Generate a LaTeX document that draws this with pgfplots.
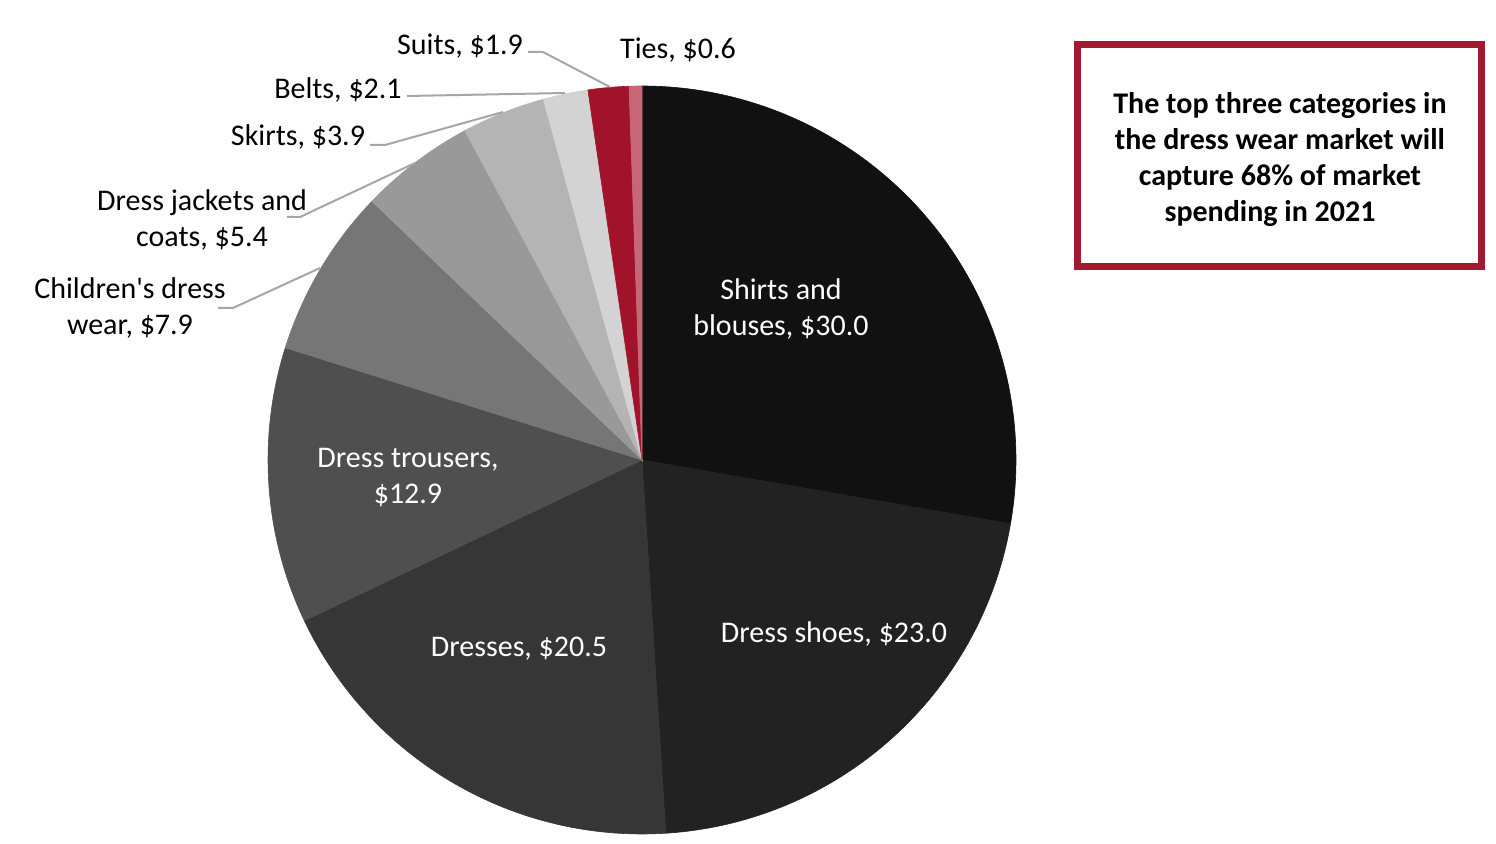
\documentclass[border=0pt]{standalone}
\usepackage{fontspec}
\setmainfont{Carlito}
\usepackage{pgfplots}
\usepackage{pgfplotstable}
\pgfplotsset{compat=1.18}

\definecolor{c0}{HTML}{111111}
\definecolor{c1}{HTML}{222222}
\definecolor{c2}{HTML}{363636}
\definecolor{c3}{HTML}{4F4F4F}
\definecolor{c4}{HTML}{767676}
\definecolor{c5}{HTML}{999999}
\definecolor{c6}{HTML}{B4B4B4}
\definecolor{c7}{HTML}{D3D3D3}
\definecolor{c8}{HTML}{A0132A}
\definecolor{c9}{HTML}{C66677}
\definecolor{leader}{HTML}{A6A6A6}
\definecolor{boxred}{HTML}{A31A30}

% spending by category, US$ bn
\pgfplotstableread[col sep=comma]{
label,value
Shirts and blouses,30.0
Dress shoes,23.0
Dresses,20.5
Dress trousers,12.9
Children's dress wear,7.9
Dress jackets and coats,5.4
Skirts,3.9
Belts,2.1
Suits,1.9
Ties,0.6
}\piedata

\begin{document}
\begin{tikzpicture}[lbl/.style={font=\fontsize{15}{18}\selectfont, align=center, inner sep=0pt}]
\begin{axis}[scale only axis, width=748pt, height=421.5pt,
  xmin=0, xmax=1496, ymin=0, ymax=843, y dir=reverse, hide axis, clip=false]
\path (axis cs:0,0) rectangle (axis cs:1496,843);

\pgfplotstablegetrowsof{\piedata}
\pgfmathtruncatemacro\nrows{\pgfplotsretval-1}
\def\total{0}
\pgfplotsforeachungrouped \i in {0,...,\nrows}{
  \pgfplotstablegetelem{\i}{value}\of\piedata
  \pgfmathsetmacro\total{\total+\pgfplotsretval}
}
\def\acc{0}
\pgfplotsforeachungrouped \i in {0,...,\nrows}{
  \pgfplotstablegetelem{\i}{value}\of\piedata
  \pgfmathsetmacro\a{90-\acc/\total*360}
  \pgfmathsetmacro\acc{\acc+\pgfplotsretval}
  \pgfmathsetmacro\b{90-\acc/\total*360}
  \edef\temp{\noexpand\fill[c\i, draw=c\i, line width=0.3pt] (axis cs:642,460) -- ++(\a:187pt)
    arc[start angle=\a, end angle=\b, radius=187pt] -- cycle;}
  \temp
}

% leader lines
\draw[leader, line width=1pt] (axis cs:528,52) -- (axis cs:543,52) -- (axis cs:610,87);
\draw[leader, line width=1pt] (axis cs:407,96) -- (axis cs:565,93);
\draw[leader, line width=1pt] (axis cs:370,145) -- (axis cs:385,145) -- (axis cs:503,112);
\draw[leader, line width=1pt] (axis cs:287,217) -- (axis cs:300,217) -- (axis cs:415,163);
\draw[leader, line width=1pt] (axis cs:218,308) -- (axis cs:233,308) -- (axis cs:320,268);

% labels
\node[lbl, white] at (axis cs:781,309) {Shirts and\\blouses, \$30.0};
\node[lbl, white] at (axis cs:834,634) {Dress shoes, \$23.0};
\node[lbl, white] at (axis cs:519,649) {Dresses, \$20.5};
\node[lbl, white] at (axis cs:408,478) {Dress trousers,\\\$12.9};
\node[lbl] at (axis cs:130,308) {Children\textquotesingle s dress\\wear, \$7.9};
\node[lbl] at (axis cs:202,220) {Dress jackets and\\coats, \$5.4};
\node[lbl] at (axis cs:298,137) {Skirts, \$3.9};
\node[lbl] at (axis cs:338,90) {Belts, \$2.1};
\node[lbl] at (axis cs:460,46) {Suits, \$1.9};
\node[lbl] at (axis cs:678,50) {Ties, \$0.6};

% callout box
\draw[boxred, line width=3.5pt] (axis cs:1077.5,44.5) rectangle (axis cs:1481.5,266.5);
\node[lbl, font=\fontsize{15}{18}\selectfont\bfseries] at (axis cs:1280,160)
  {The top three categories in\\the dress wear market will\\capture 68\% of market\\spending in 2021\hspace*{10pt}};
\end{axis}
\end{tikzpicture}
\end{document}
